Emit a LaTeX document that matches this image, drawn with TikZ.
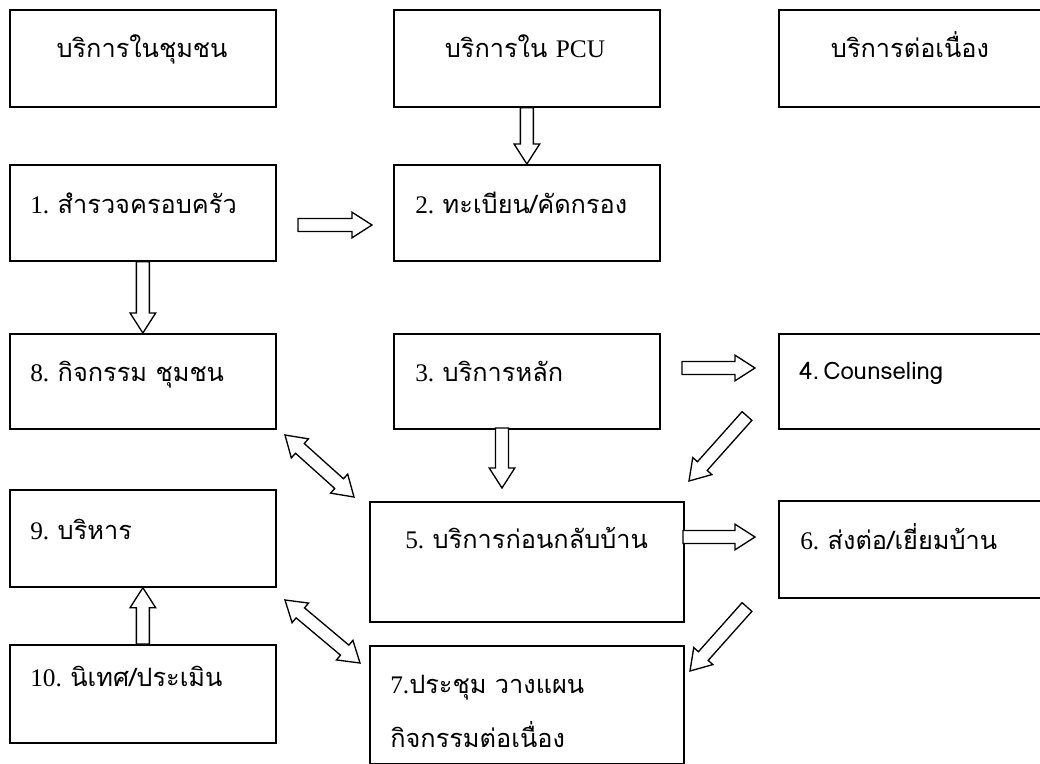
\documentclass[tikz,border=0pt]{standalone}
\usepackage{fontspec}
\setmainfont{Liberation Serif}
\newfontfamily\thai[Script=Thai]{Loma}
\usetikzlibrary{calc}
\newcommand{\shw}{4.9pt}
\newcommand{\hw}{9.6pt}
\newcommand{\hlen}{15pt}
\newcommand{\BlkArr}[2]{%
  \coordinate (bh) at ($(#2)!\hlen!(#1)$);
  \draw[blk] ($(#1)!\shw!90:(#2)$) -- ($(bh)!\shw!-90:(#1)$) -- ($(bh)!\hw!-90:(#1)$) -- (#2)
    -- ($(bh)!\hw!90:(#1)$) -- ($(bh)!\shw!90:(#1)$) -- ($(#1)!\shw!-90:(#2)$) -- cycle;}
\newcommand{\DblArr}[2]{%
  \coordinate (ha) at ($(#1)!\hlen!(#2)$);
  \coordinate (hb) at ($(#2)!\hlen!(#1)$);
  \draw[blk] (#1) -- ($(ha)!\hw!90:(#2)$) -- ($(ha)!\shw!90:(#2)$) -- ($(hb)!\shw!-90:(#1)$)
    -- ($(hb)!\hw!-90:(#1)$) -- (#2) -- ($(hb)!\hw!90:(#1)$) -- ($(hb)!\shw!90:(#1)$)
    -- ($(ha)!\shw!-90:(#2)$) -- ($(ha)!\hw!-90:(#2)$) -- cycle;}
\begin{document}
\begin{tikzpicture}[x=0.75pt,y=-0.75pt,
  box/.style={draw, line width=1.3pt, anchor=north west, inner sep=0pt, minimum width=199.5pt},
  blk/.style={draw, line width=1pt, fill=white, line join=miter},
  lbl/.style={inner sep=0pt, font=\fontsize{19}{22}\selectfont},
  hd/.style={lbl, anchor=base}]
\useasboundingbox[fill=white] (0,0) rectangle (1040,764);
% boxes
\node[box, minimum height=72.75pt] (A) at (9,9) {};
\node[box, minimum height=72.75pt] (B) at (393,9) {};
\node[box, minimum height=72.75pt, minimum width=201pt] (C) at (778,9) {};
\node[box, minimum height=72pt] (n1) at (9,164) {};
\node[box, minimum height=72pt] (n2) at (393,164) {};
\node[box, minimum height=71.25pt] (n8) at (9,333) {};
\node[box, minimum height=71.25pt] (n3) at (393,333) {};
\node[box, minimum height=71.25pt, minimum width=201pt] (n4) at (778,333) {};
\node[box, minimum height=72.75pt] (n9) at (9,489) {};
\node[box, minimum height=90pt, minimum width=235.5pt] (n5) at (369,501) {};
\node[box, minimum height=72.75pt, minimum width=201pt] (n6) at (778,500) {};
\node[box, minimum height=73.5pt] (n10) at (9,644) {};
\node[box, minimum height=88.5pt, minimum width=235.5pt] (n7) at (369,645) {};
% texts
\node[hd] (tA) at (142,57) {\thai บริการในชุมชน};
\node[hd] (tB) at (525,57) {\thai บริการใน \rmfamily PCU};
\node[hd] (tC) at (910,57) {\thai บริการต่อเนื่อง};
\node[lbl, anchor=base west] (t1) at ($(n1.north west)+(21,49)$) {1. \thai สำรวจครอบครัว};
\node[lbl, anchor=base west] (t2) at ($(n2.north west)+(22,49)$) {2. \thai ทะเบียน/คัดกรอง};
\node[lbl, anchor=base west] (t8) at ($(n8.north west)+(21,48)$) {8. \thai กิจกรรม ชุมชน};
\node[lbl, anchor=base west] (t3) at ($(n3.north west)+(22,48)$) {3. \thai บริการหลัก};
\node[lbl, anchor=base west, font=\fontsize{18}{22}\selectfont] (t4) at ($(n4.north west)+(21,46)$) {\thai 4.\,Counseling};
\node[lbl, anchor=base west] (t9) at ($(n9.north west)+(21,50)$) {9. \thai บริหาร};
\node[lbl, anchor=base west] (t5) at ($(n5.north west)+(36,47)$) {5. \thai บริการก่อนกลับบ้าน};
\node[lbl, anchor=base west] (t6) at ($(n6.north west)+(22,49)$) {6. \thai ส่งต่อ/เยี่ยมบ้าน};
\node[lbl, anchor=base west] (t10) at ($(n10.north west)+(21,42)$) {10. \thai นิเทศ/ประเมิน};
\node[lbl, anchor=base west] (t7a) at ($(n7.north west)+(21,48)$) {7.\thai ประชุม วางแผน};
\node[lbl, anchor=base west] (t7b) at ($(n7.north west)+(21,102)$) {\thai กิจกรรมต่อเนื่อง};
% arrow end points
\coordinate (a12t) at (298,225);
\coordinate (a12h) at (372,225);
\coordinate (a34t) at (682,368);
\coordinate (a34h) at (755,368);
\coordinate (a35t) at (502,428);
\coordinate (a35h) at (502,488);
\coordinate (a45t) at (747,416);
\coordinate (a45h) at (689,481);
\coordinate (a85a) at (285,435);
\coordinate (a85b) at (354,497);
\coordinate (a56t) at (683,537);
\coordinate (a56h) at (755,537);
\coordinate (a67t) at (747,607);
\coordinate (a67h) at (690,671);
\coordinate (a97a) at (285,600);
\coordinate (a97b) at (360,663);
% arrows
\BlkArr{B.south}{n2.north}
\BlkArr{a12t}{a12h}
\BlkArr{n1.south}{n8.north}
\BlkArr{a34t}{a34h}
\BlkArr{a35t}{a35h}
\BlkArr{a45t}{a45h}
\DblArr{a85a}{a85b}
\BlkArr{a56t}{a56h}
\BlkArr{a67t}{a67h}
\DblArr{a97a}{a97b}
\BlkArr{n10.north}{n9.south}
\end{tikzpicture}
\end{document}
